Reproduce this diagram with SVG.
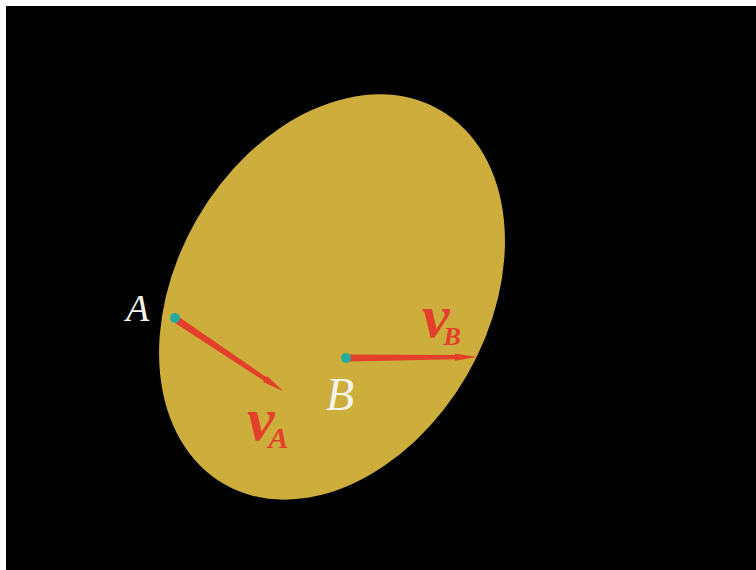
<svg xmlns="http://www.w3.org/2000/svg" width="756" height="570" viewBox="0 0 756 570">
<style>
.lbl{font-family:"Liberation Serif","DejaVu Serif",serif;font-style:italic;fill:#f4f4ea}
.vel{font-family:"Liberation Serif","DejaVu Serif",serif;font-style:italic;font-weight:bold;fill:#e2402b}
.arr{fill:#e2402b}
.dot{fill:#26ab9d}
</style>
<defs>
<path id="arrowShape" d="M0,-3.6 L106,-2.2 L106,-3.6 L128,0 L106,3.6 L106,2.2 L0,3.6 Z"/>
</defs>
<rect x="0" y="0" width="756" height="570" fill="#ffffff"/>
<rect x="6" y="6" width="750" height="564" fill="#000000"/>
<g id="body">
<ellipse cx="332" cy="297" rx="156" ry="216" transform="rotate(30 332 297)" fill="#cdad3b"/>
</g>
<g id="connectors">
<use href="#arrowShape" class="arr" transform="translate(177 320) rotate(33.8)"/>
<use href="#arrowShape" class="arr" transform="translate(349 358) rotate(-0.5)"/>
</g>
<g id="pointA">
<circle class="dot" cx="175" cy="318" r="5"/>
<text class="lbl" x="126" y="321" font-size="38">A</text>
</g>
<g id="pointB">
<circle class="dot" cx="346" cy="358" r="5"/>
<text class="lbl" x="326" y="410" font-size="46">B</text>
</g>
<g id="labelVA">
<text class="vel" x="247" y="440" font-size="62">v<tspan font-size="30" dx="-6" dy="8">A</tspan></text>
</g>
<g id="labelVB">
<text class="vel" x="422" y="337" font-size="62">v<tspan font-size="26" dx="-6" dy="8">B</tspan></text>
</g>
</svg>
